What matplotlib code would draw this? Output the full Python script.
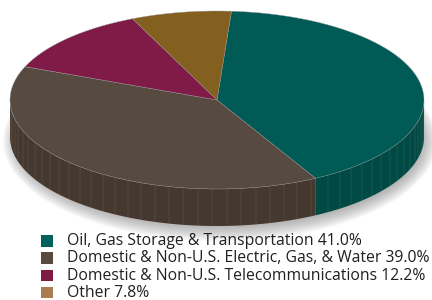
import numpy as np
import matplotlib.pyplot as plt
from matplotlib.patches import Polygon, Rectangle, Ellipse

# data
labels = ['Oil, Gas Storage & Transportation', 'Domestic & Non-U.S. Electric, Gas, & Water',
          'Domestic & Non-U.S. Telecommunications', 'Other']
shares = [41.0, 39.0, 12.2, 7.8]
top_colors = ['#005a56', '#574a41', '#7f1b46', '#83601f']
side_colors = ['#004a46', '#45382f', '#5e1434', '#654a18']
legend_colors = ['#00625d', '#574a41', '#7f1a45', '#a97d52']

# pie geometry (pixels, y down)
cx, cy, a, b, depth = 217, 100, 207, 89, 37
start = 86.0

fig = plt.figure(figsize=(4.32, 3.00), dpi=100)
ax = fig.add_axes([0, 0, 1, 1])
ax.set_xlim(0, 432)
ax.set_ylim(300, 0)
ax.axis('off')


def pt(t):
    r = np.radians(t)
    return cx + a * np.cos(r), cy - b * np.sin(r)


# soft shadow
for i in range(16):
    ax.add_patch(Ellipse((cx + 3, cy + depth + 4), 2 * a + 20 - i * 2.5, 2 * b + 22 - i * 2.5,
                         color='#707070', alpha=0.05, lw=0, zorder=1))

# slice angles (clockwise)
edges = [start]
for s in shares:
    edges.append(edges[-1] - s / 100 * 360)

# side faces
for i in range(len(shares)):
    t1, t0 = edges[i], edges[i + 1]
    ts = np.linspace(t0, t1, max(int((t1 - t0) / 0.5), 2))
    vis = np.sin(np.radians(ts)) <= 0.001
    if vis.sum() < 2:
        continue
    ts = ts[vis]
    xs, ys = pt(ts)
    poly = list(zip(xs, ys)) + list(zip(xs[::-1], ys[::-1] + depth))
    ax.add_patch(Polygon(poly, closed=True, fc=side_colors[i], ec='none', zorder=2))
    # facet lines
    for t in ts[::8][1:]:
        x, y = pt(t)
        ax.plot([x, x], [y, y + depth], color='#8a7b70', lw=0.35, alpha=0.45, zorder=3)

# top faces
for i in range(len(shares)):
    t1, t0 = edges[i], edges[i + 1]
    ts = np.linspace(t1, t0, 200)
    xs, ys = pt(ts)
    poly = [(cx, cy)] + list(zip(xs, ys))
    ax.add_patch(Polygon(poly, closed=True, fc=top_colors[i], ec='#9a9a9a', lw=0.3, zorder=4))

# legend
for i, (lab, val) in enumerate(zip(labels, shares)):
    y = 241 + i * 17.3
    ax.add_patch(Rectangle((41, y - 6), 12, 11.5, fc=legend_colors[i], ec='none', zorder=5))
    ax.text(67, y, f'{lab} {val:.1f}%', fontsize=11.3, family='Open Sans', color='#231f20',
            va='center', ha='left', zorder=5)

fig.savefig('out.png', dpi=100)
